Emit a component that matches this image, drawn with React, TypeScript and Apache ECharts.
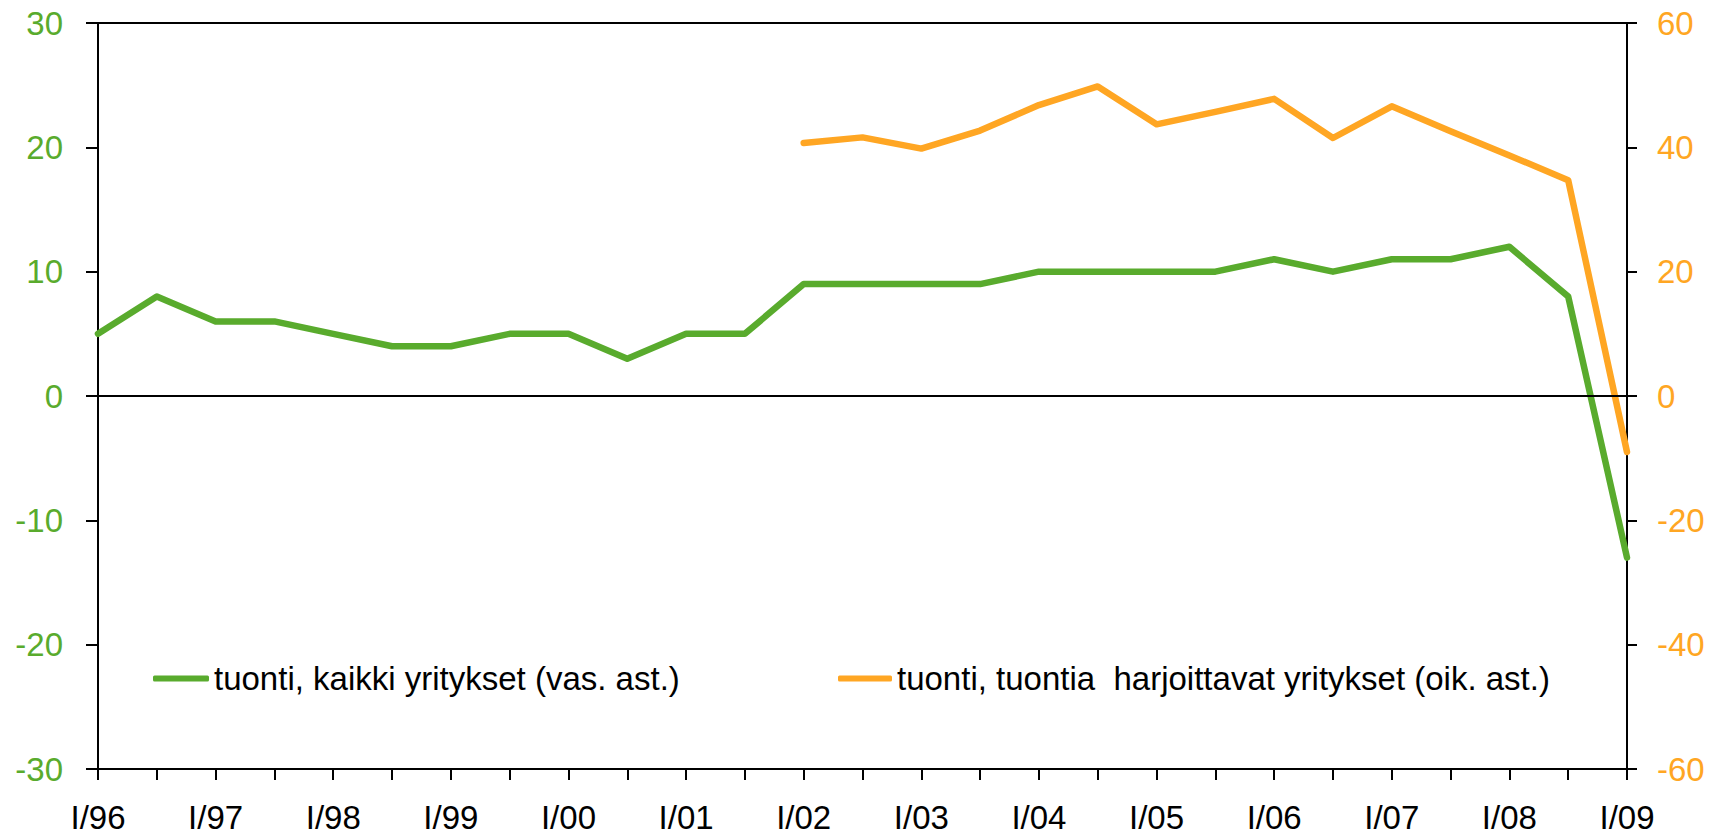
import React, { useEffect, useRef } from "react";
import * as echarts from "echarts";

const categories: string[] = [
  "I/96", "II/96", "I/97", "II/97", "I/98", "II/98", "I/99", "II/99",
  "I/00", "II/00", "I/01", "II/01", "I/02", "II/02", "I/03", "II/03",
  "I/04", "II/04", "I/05", "II/05", "I/06", "II/06", "I/07", "II/07",
  "I/08", "II/08", "I/09",
];

const allFirms: number[] = [
  5, 8, 6, 6, 5, 4, 4, 5, 5, 3, 5, 5, 9, 9, 9, 9, 10, 10, 10, 10, 11, 10, 11, 11, 12, 8, -13,
];

const importingFirms: (number | null)[] = [
  null, null, null, null, null, null, null, null, null, null, null, null,
  40.7, 41.6, 39.8, 42.7, 46.8, 49.8, 43.7, 45.7, 47.8, 41.5, 46.6, 42.6, 38.7, 34.7, -9,
];

const leftTicks = { min: -30, max: 30, interval: 10 };
const rightTicks = { min: -60, max: 60, interval: 20 };

const seriesNames = [
  "tuonti, kaikki yritykset (vas. ast.)",
  "tuonti, tuontia  harjoittavat yritykset (oik. ast.)",
];

const GREEN = "#59AB2D";
const ORANGE = "#FFA623";

export default function App() {
  const ref = useRef<HTMLDivElement>(null);
  useEffect(() => {
    document.body.style.margin = "0";
    const chart = echarts.init(ref.current!, null, { renderer: "svg" });
    const font = "'Liberation Sans', Arial, sans-serif";
    const legendText = { color: "#000", fontSize: 33, lineHeight: 33, fontFamily: font };
    chart.setOption({
      animation: false,
      backgroundColor: "#ffffff",
      grid: { left: 98, right: 88, top: 23, bottom: 67, containLabel: false },
      legend: [
        {
          data: [seriesNames[0]],
          left: 153,
          top: 662,
          padding: 0,
          icon: "roundRect",
          itemWidth: 56,
          itemHeight: 6,
          itemGap: 4,
          selectedMode: false,
          textStyle: legendText,
        },
        {
          data: [seriesNames[1]],
          left: 838,
          top: 662,
          padding: 0,
          icon: "roundRect",
          itemWidth: 54,
          itemHeight: 6,
          itemGap: 5,
          selectedMode: false,
          textStyle: legendText,
        },
      ],
      graphic: [
        {
          type: "line",
          shape: { x1: 86, y1: 23, x2: 1637, y2: 23 },
          style: { stroke: "#000", lineWidth: 2 },
          silent: true,
        },
      ],
      xAxis: {
        type: "category",
        data: categories,
        boundaryGap: false,
        axisLine: { show: true, onZero: false, lineStyle: { color: "#000", width: 2 } },
        axisTick: { show: true, interval: 0, length: 11, lineStyle: { color: "#000", width: 2 } },
        axisLabel: {
          interval: 1,
          margin: 32,
          color: "#000",
          fontSize: 33,
          lineHeight: 33,
          fontFamily: font,
        },
        splitLine: { show: false },
      },
      yAxis: [
        {
          type: "value",
          position: "left",
          min: leftTicks.min,
          max: leftTicks.max,
          interval: leftTicks.interval,
          axisLine: { show: true, lineStyle: { color: "#000", width: 2 } },
          axisTick: { show: true, length: 12, lineStyle: { color: "#000", width: 2 } },
          axisLabel: { color: GREEN, fontSize: 33, margin: 35, fontFamily: font },
          splitLine: { show: false },
        },
        {
          type: "value",
          position: "right",
          min: rightTicks.min,
          max: rightTicks.max,
          interval: rightTicks.interval,
          axisLine: { show: true, lineStyle: { color: "#000", width: 2 } },
          axisTick: { show: true, length: 10, lineStyle: { color: "#000", width: 2 } },
          axisLabel: { color: ORANGE, fontSize: 33, margin: 30, fontFamily: font },
          splitLine: { show: false },
        },
      ],
      series: [
        {
          name: seriesNames[0],
          type: "line",
          yAxisIndex: 0,
          data: allFirms,
          symbol: "none",
          lineStyle: { color: GREEN, width: 6.5, cap: "round", join: "round" },
          itemStyle: { color: GREEN },
          markLine: {
            silent: true,
            symbol: "none",
            label: { show: false },
            lineStyle: { color: "#000", width: 2, type: "solid" },
            data: [{ yAxis: 0 }],
          },
          z: 3,
        },
        {
          name: seriesNames[1],
          type: "line",
          yAxisIndex: 1,
          data: importingFirms,
          symbol: "none",
          connectNulls: false,
          lineStyle: { color: ORANGE, width: 6.5, cap: "round", join: "round" },
          itemStyle: { color: ORANGE },
          z: 4,
        },
      ],
    });
    return () => chart.dispose();
  }, []);
  return <div ref={ref} style={{ width: 1715, height: 836 }} />;
}
